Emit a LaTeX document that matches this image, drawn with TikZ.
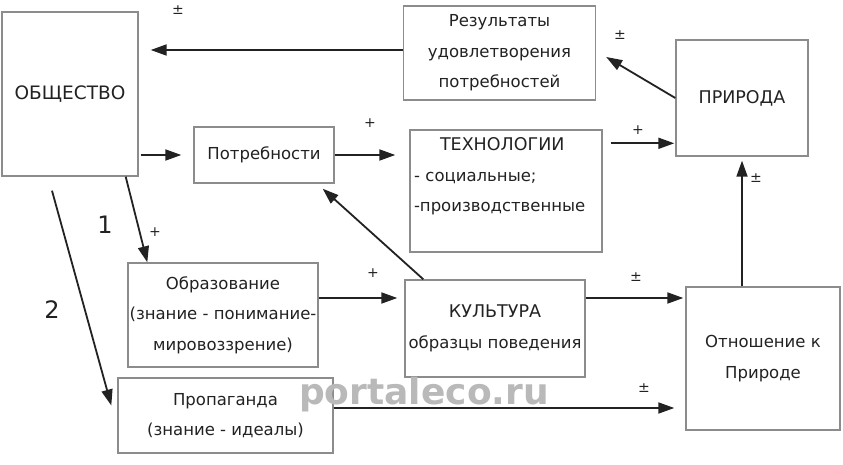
\documentclass[tikz,border=0pt]{standalone}
\usepackage{fontspec}
\setmainfont{DejaVu Sans}
\usetikzlibrary{arrows.meta}
\definecolor{boxgray}{HTML}{8C8C8C}
\definecolor{inkgray}{HTML}{222222}
\begin{document}
\begin{tikzpicture}[x=1pt, y=-1pt,
        box/.style={draw=boxgray, line width=1.4pt, inner sep=0pt, text=inkgray, align=center,
            font=\fontsize{16.5}{30.5}\selectfont},
        arr/.style={draw=inkgray, line width=1.8pt, -{Triangle[length=16pt,width=11pt]}},
        sign/.style={text=inkgray, font=\fontsize{14}{14}\selectfont, inner sep=0pt},
        num/.style={text=inkgray, font=\fontsize{24}{24}\selectfont, inner sep=0pt}]
    \useasboundingbox (0,0) rectangle (843,465);
    \fill[white] (0,0) rectangle (843,465);

    \node[box, minimum width=136, minimum height=164, font=\fontsize{18.5}{20}\selectfont] (obs) at (70,94) {ОБЩЕСТВО};
    \node[box, minimum width=192, minimum height=94] (res) at (499.5,53) {Результаты\\удовлетворения\\потребностей};
    \node[box, minimum width=132, minimum height=116, font=\fontsize{17.5}{20}\selectfont] (prir) at (742,98) {ПРИРОДА};
    \node[box, minimum width=140, minimum height=56] (potr) at (264,155) {Потребности};
    \node[box, minimum width=192, minimum height=122] (tech) at (506,191) {};
    \node[box, draw=none, align=left, text width=184, anchor=north] (techtxt) at ([yshift=-8pt]tech.north)
        {\hspace*{26pt}{\fontsize{17.5}{20}\selectfont ТЕХНОЛОГИИ}\\- социальные;\\-производственные};
    \node[box, minimum width=190, minimum height=104] (obr) at (223,315) {Образование\\(знание - понимание-\\мировоззрение)};
    \node[box, minimum width=215, minimum height=75] (prop) at (225.5,415.5) {Пропаганда\\(знание - идеалы)};
    \node[box, minimum width=180, minimum height=97] (kult) at (495,328.5) {{\fontsize{17.5}{20}\selectfont КУЛЬТУРА}\\образцы поведения};
    \node[box, minimum width=154, minimum height=143] (otn) at (763,358.5) {Отношение к\\Природе};

    \coordinate (t1) at ([xshift=8pt,yshift=-14pt]tech.north east);

    \draw[arr, shorten >=12pt] ([yshift=3pt]res.west) -- ([yshift=3pt]res.west -| obs.east);
    \draw[arr] (prir.west) -- ([xshift=10pt,yshift=-4pt]res.east);
    \draw[arr, shorten <=2pt, shorten >=12pt] (obs.east |- potr.west) -- (potr.west);
    \draw[arr, shorten >=14pt] (potr.east) -- (potr.east -| tech.west);
    \draw[arr, shorten >=1pt] (t1) -- (t1 -| prir.west);
    \draw[arr] ([xshift=19pt]kult.north west) -- ([xshift=-12pt,yshift=-5pt]potr.south east);
    \draw[arr, shorten >=4pt] (prir.south |- otn.north) -- (prir.south);
    \draw[arr] ([xshift=-13pt]obs.south east) -- ([xshift=20pt]obr.north west);
    \draw[arr] ([xshift=-18pt,yshift=-14pt]obs.south) -- ([xshift=-6pt,yshift=10pt]prop.west);
    \draw[arr, shorten >=7pt] ([yshift=17pt]obr.east) -- ([yshift=17pt]obr.east -| kult.west);
    \draw[arr, shorten >=2pt] ([yshift=30.5pt]kult.east) -- ([yshift=30.5pt]kult.east -| otn.west);
    \draw[arr, shorten >=11pt] ([yshift=7.5pt]prop.east) -- ([yshift=7.5pt]prop.east -| otn.west);

    \node[sign] (s1) at (178,10) {±};
    \node[sign] (s2) at (620,35) {±};
    \node[sign] (s3) at (370,123) {+};
    \node[sign] (s4) at (638,130) {+};
    \node[sign] (s5) at (756,178) {±};
    \node[sign] (s6) at (155,232) {+};
    \node[sign] (s7) at (373,273) {+};
    \node[sign] (s8) at (636,277) {±};
    \node[sign] (s9) at (644,388) {±};
    \node[num] (n1) at (105,225) {1};
    \node[num] (n2) at (52,310) {2};

    \node[text=gray!55, font=\fontsize{36}{36}\selectfont\bfseries] (mark) at (424,395) {portaleco.ru};
\end{tikzpicture}
\end{document}
